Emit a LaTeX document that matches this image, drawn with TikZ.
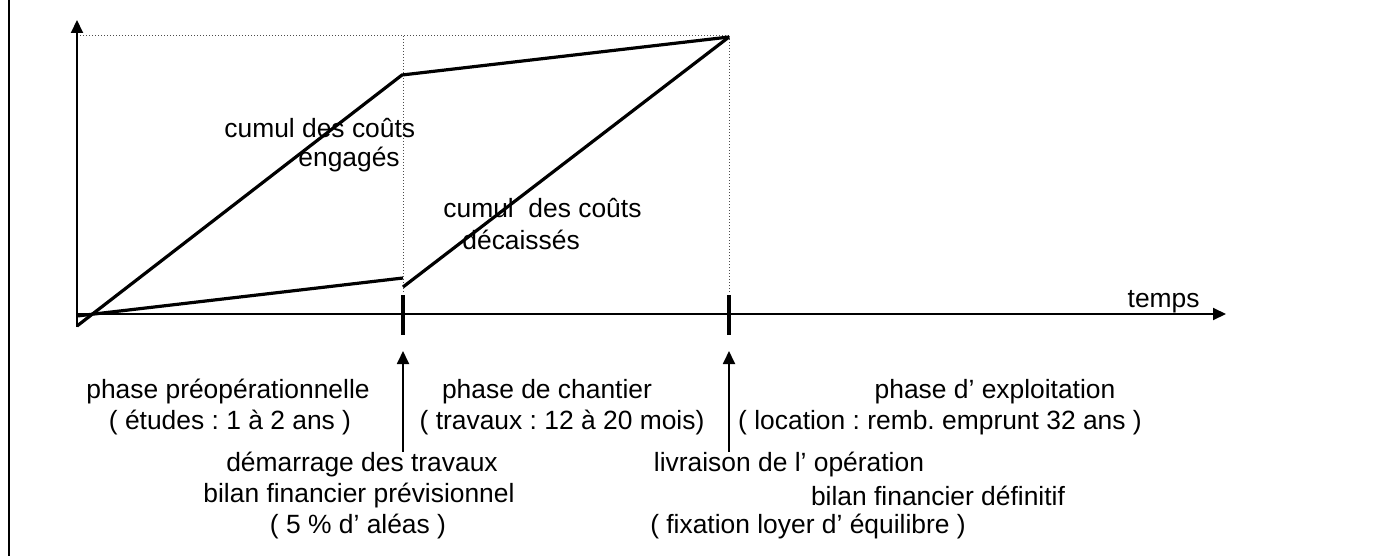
\documentclass[tikz,border=0pt]{standalone}
\usepackage{fontspec}
\setmainfont{Liberation Sans}
\usetikzlibrary{arrows.meta}
\frenchspacing
\begin{document}
\begin{tikzpicture}[x=0.5pt,y=-0.5pt,
  axis/.style={line width=1pt,-{Triangle[length=6.5pt,width=6pt]}},
  curve/.style={line width=1.6pt,line join=miter},
  guide/.style={line width=0.5pt,densely dotted,black!70},
  tickmark/.style={line width=2.2pt},
  pointer/.style={line width=0.9pt,-{Triangle[length=6.5pt,width=6pt]}},
  lbl/.style={font=\fontsize{13.2pt}{15.8pt}\selectfont,inner sep=0pt}]
\useasboundingbox (0,0) rectangle (1377,556);
% frame line on the left
\draw[line width=1.3pt] (9,0) -- (9,556);
% coordinates
\coordinate (ybot) at (77,327);
\coordinate (ytop) at (77,20);
\coordinate (orig) at (77,314);
\coordinate (xend) at (1226,314);
\coordinate (tl) at (77,36);
\coordinate (tm) at (403,36);
\coordinate (tr) at (729,36);
\coordinate (dm) at (403,293);
\coordinate (dr) at (729,293);
\coordinate (e0) at (77,326);
\coordinate (e1) at (402,75);
\coordinate (e2) at (729,37);
\coordinate (d0) at (77,316);
\coordinate (d1) at (403,278);
\coordinate (d2) at (403,287);
\coordinate (m1t) at (403,295);
\coordinate (m1b) at (403,335);
\coordinate (m2t) at (729,295);
\coordinate (m2b) at (729,335);
\coordinate (a1b) at (403,452);
\coordinate (a1t) at (403,351);
\coordinate (a2b) at (729,452);
\coordinate (a2t) at (729,351);
% guides
\draw[guide] (tl) -- (tr);
\draw[guide] (tm) -- (dm);
\draw[guide] (tr) -- (dr);
% axes
\draw[axis] (ybot) -- (ytop);
\draw[axis] (orig) -- (xend);
% curves
\draw[curve] (e0) -- (e1) -- (e2);
\draw[curve] (d0) -- (d1);
\draw[curve] (d2) -- (e2);
% tick marks
\draw[tickmark] (m1t) -- (m1b);
\draw[tickmark] (m2t) -- (m2b);
% pointers
\draw[pointer] (a1b) -- (a1t);
\draw[pointer] (a2b) -- (a2t);
% labels
\node[lbl,anchor=west] (ce1) at (224,128) {cumul des coûts};
\node[lbl,anchor=west] (ce2) at (298,160) {engagés};
\node[lbl,anchor=west] (cd1) at (443,208) {cumul \ des coûts};
\node[lbl,anchor=west] (cd2) at (462,240) {décaissés};
\node[lbl,anchor=east] (tps) at (1200,302) {temps};
\node[lbl] (p1a) at (228,392) {phase préopérationnelle};
\node[lbl] (p1b) at (230,423) {( études : 1 à 2 ans )};
\node[lbl] (p2a) at (547,392) {phase de chantier};
\node[lbl] (p2b) at (562,423) {( travaux : 12 à 20 mois)};
\node[lbl] (p3a) at (995,392) {phase d’ exploitation};
\node[lbl] (p3b) at (940,423) {( location : remb. emprunt 32 ans )};
\node[lbl] (s1a) at (362,465) {démarrage des travaux};
\node[lbl] (s1b) at (359,496) {bilan financier prévisionnel};
\node[lbl] (s1c) at (358,527) {( 5 \% d’ aléas )};
\node[lbl] (s2a) at (789,465) {livraison de l’ opération};
\node[lbl] (s2b) at (938,496) {bilan financier définitif};
\node[lbl] (s2c) at (808,527) {( fixation loyer d’ équilibre )};
\end{tikzpicture}
\end{document}
